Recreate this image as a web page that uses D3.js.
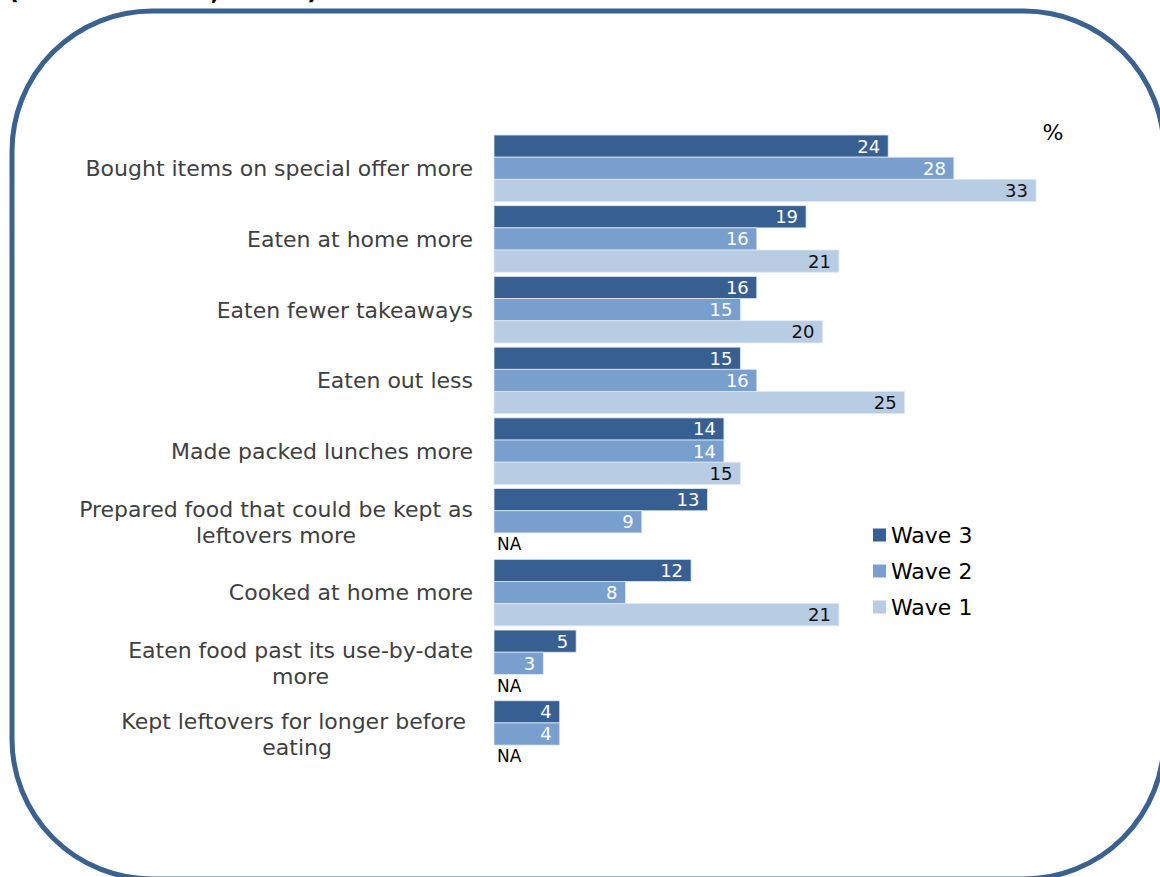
<!DOCTYPE html>
<html>
<head>
<meta charset="utf-8">
<script src="https://cdn.jsdelivr.net/npm/d3@7"></script>
<style>
  html, body { margin: 0; padding: 0; background: #fff; }
  svg { display: block; }
  tspan { white-space: pre; }
</style>
</head>
<body>
<svg id="chart" width="1160" height="877"></svg>
<script>
// Survey categories (top to bottom)
const categories = [
  "Bought items on special offer more",
  "Eaten at home more",
  "Eaten fewer takeaways",
  "Eaten out less",
  "Made packed lunches more",
  "Prepared food that could be kept as leftovers more",
  "Cooked at home more",
  "Eaten food past its use-by-date more",
  "Kept leftovers for longer before eating"
];

// Wrapped label lines for each category
const labelLines = [
  ["Bought items on special offer more"],
  ["Eaten at home more"],
  ["Eaten fewer takeaways"],
  ["Eaten out less"],
  ["Made packed lunches more"],
  ["Prepared food that could be kept as", "leftovers more"],
  ["Cooked at home more"],
  ["Eaten food past its use-by-date", "more"],
  ["Kept leftovers for longer before ", "eating"]
];

const waves = ["Wave 3", "Wave 2", "Wave 1"];

// Percentages per wave (null = not asked)
const wave3 = [24, 19, 16, 15, 14, 13, 12, 5, 4];
const wave2 = [28, 16, 15, 16, 14, 9, 8, 3, 4];
const wave1 = [33, 21, 20, 25, 15, null, 21, null, null];

const waveColors = ["#375f91", "#789fcd", "#b8cce4"];
const valueTextColors = ["#ffffff", "#ffffff", "#111111"];

const svg = d3.select("#chart");
const font = "DejaVu Sans, Verdana, sans-serif";

// Rounded frame around the chart
svg.append("rect")
  .attr("x", 12).attr("y", 11)
  .attr("width", 1152).attr("height", 868)
  .attr("rx", 140).attr("ry", 140)
  .attr("fill", "none")
  .attr("stroke", "#3b6191")
  .attr("stroke-width", 5);

// Heading above the frame (runs off the top of the page)
svg.append("text")
  .attr("x", 8).attr("y", -1)
  .attr("font-family", font)
  .attr("font-weight", "bold")
  .attr("font-size", 24)
  .attr("fill", "#000")
  .text("(Wave 3 adults, all UK)");

const rows = categories.map((c, i) => ({
  category: c,
  lines: labelLines[i],
  values: [wave3[i], wave2[i], wave1[i]]
}));

const x = d3.scaleLinear().domain([0, 33]).range([494, 1036]);

const y = d3.scaleBand()
  .domain(categories)
  .range([135, 135 + 70.25 * categories.length])
  .paddingInner(0.06)
  .paddingOuter(0.0)
  .align(0);

const yWave = d3.scaleBand()
  .domain(waves)
  .range([0, y.bandwidth()]);

const groups = svg.append("g").selectAll("g.row")
  .data(rows)
  .join("g")
  .attr("class", "row")
  .attr("transform", d => `translate(0,${y(d.category)})`);

// Bars
groups.selectAll("rect.bar")
  .data(d => d.values.map((v, j) => ({ v, j })).filter(e => e.v !== null))
  .join("rect")
  .attr("class", "bar")
  .attr("x", x(0))
  .attr("y", e => yWave(waves[e.j]))
  .attr("width", e => x(e.v) - x(0))
  .attr("height", yWave.bandwidth())
  .attr("fill", e => waveColors[e.j])
  .attr("stroke", "#dfe7f1")
  .attr("stroke-width", 0.8);

// Value labels inside bar ends
groups.selectAll("text.val")
  .data(d => d.values.map((v, j) => ({ v, j })).filter(e => e.v !== null))
  .join("text")
  .attr("class", "val")
  .attr("x", e => x(e.v) - 8)
  .attr("y", e => yWave(waves[e.j]) + yWave.bandwidth() / 2)
  .attr("dy", "0.36em")
  .attr("text-anchor", "end")
  .attr("font-family", font)
  .attr("font-size", 18)
  .attr("fill", e => valueTextColors[e.j])
  .text(e => e.v);

// "NA" marker for missing values
groups.selectAll("text.na")
  .data(d => d.values.map((v, j) => ({ v, j })).filter(e => e.v === null))
  .join("text")
  .attr("class", "na")
  .attr("x", x(0) + 3)
  .attr("y", e => yWave(waves[e.j]) + yWave.bandwidth() / 2)
  .attr("dy", "0.36em")
  .attr("font-family", font)
  .attr("font-size", 17)
  .attr("fill", "#000")
  .text("NA");

// Category labels: single lines right-aligned; wrapped lines centred on the widest line
const labelRight = 473;
groups.append("text")
  .attr("font-family", font)
  .attr("font-size", 22)
  .attr("fill", "#404040")
  .each(function(d) {
    const t = d3.select(this);
    const n = d.lines.length;
    const lh = 26;
    const cy = y.bandwidth() / 2;
    const spans = d.lines.map((ln, k) =>
      t.append("tspan")
        .attr("y", cy + (k - (n - 1) / 2) * lh)
        .attr("dy", "0.36em")
        .text(ln));
    if (n === 1) {
      t.attr("text-anchor", "end");
      spans[0].attr("x", labelRight);
    } else {
      t.attr("text-anchor", "middle");
      const widest = d3.max(spans, s => s.node().getComputedTextLength());
      spans.forEach(s => s.attr("x", labelRight - widest / 2));
    }
  });

// Unit marker
svg.append("text")
  .attr("x", 1053).attr("y", 132)
  .attr("dy", "0.36em")
  .attr("text-anchor", "middle")
  .attr("font-family", font)
  .attr("font-size", 22)
  .attr("fill", "#000")
  .text("%");

// Legend
const legend = svg.append("g").selectAll("g")
  .data(waves)
  .join("g")
  .attr("transform", (d, i) => `translate(873,${535 + i * 36})`);

legend.append("rect")
  .attr("x", 0).attr("y", -6.5)
  .attr("width", 13).attr("height", 13)
  .attr("fill", (d, i) => waveColors[i]);

legend.append("text")
  .attr("x", 18).attr("y", 0)
  .attr("dy", "0.36em")
  .attr("font-family", font)
  .attr("font-size", 22)
  .attr("fill", "#000")
  .text(d => d);
</script>
</body>
</html>
